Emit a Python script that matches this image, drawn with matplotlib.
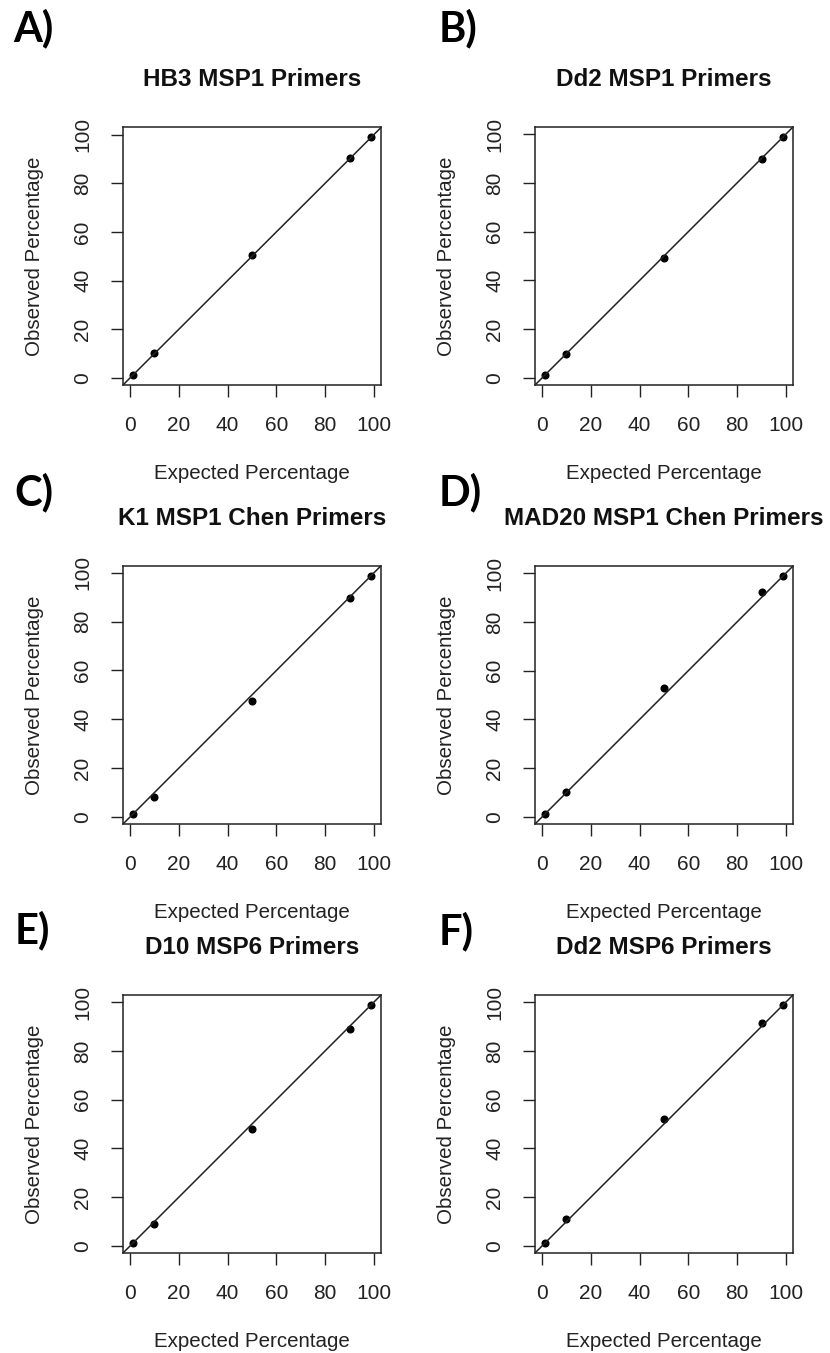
import matplotlib
matplotlib.use("Agg")
import matplotlib.pyplot as plt

plt.rcParams['font.family'] = ['Liberation Sans', 'DejaVu Sans']

# expected vs observed percentages for each primer set
expected = [1, 10, 50, 90, 99]
obs_hb3_msp1 = [1, 10.2, 50.7, 90.4, 99.2]
obs_dd2_msp1 = [1, 9.6, 49.3, 89.9, 99.0]
obs_k1_chen = [1, 8.2, 47.5, 89.8, 98.9]
obs_mad20_chen = [1, 10.4, 52.8, 92.1, 99.0]
obs_d10_msp6 = [1, 8.9, 48.0, 89.1, 99.0]
obs_dd2_msp6 = [1, 11.0, 51.9, 91.3, 99.0]

titles = ["HB3 MSP1 Primers", "Dd2 MSP1 Primers",
          "K1 MSP1 Chen Primers", "MAD20 MSP1 Chen Primers",
          "D10 MSP6 Primers", "Dd2 MSP6 Primers"]
letters = ["A)", "B)", "C)", "D)", "E)", "F)"]
observed = [obs_hb3_msp1, obs_dd2_msp1, obs_k1_chen,
            obs_mad20_chen, obs_d10_msp6, obs_dd2_msp6]

W, H = 830, 1353
fig = plt.figure(figsize=(W / 100, H / 100), dpi=100)

# axes boxes in pixels (left, top), size ~258 px
lefts = [123, 535]
tops = [127, 566, 995]
size = 258
# letter positions (left, baseline) in pixels
letter_pos = [(13, 41), (439, 41), (14, 505), (439, 505), (15, 943), (439, 944)]


def rlim(v):
    lo, hi = min(v), max(v)
    d = (hi - lo) * 0.04
    return lo - d, hi + d


for i in range(6):
    r, c = divmod(i, 2)
    ax = fig.add_axes([lefts[c] / W, 1 - (tops[r] + size) / H, size / W, size / H])
    ax.plot(expected, observed[i], 'o', color='black', ms=4.8)
    ax.axline((0, 0), slope=1, color='#222222', lw=1.1)
    ax.set_xlim(*rlim(expected))
    ax.set_ylim(*rlim(observed[i]))
    ax.set_xticks([0, 20, 40, 60, 80, 100])
    ax.set_yticks([0, 20, 40, 60, 80, 100])
    ax.tick_params(length=8.5, width=1.0, pad=13.5, labelsize=15, colors='#222222')
    for lab in ax.get_yticklabels():
        lab.set_rotation(90)
        lab.set_va('center')
    for s in ax.spines.values():
        s.set_linewidth(1.1)
        s.set_color('#222222')
    ax.set_title(titles[i], fontsize=17.5, fontweight='bold', pad=29.5, color='#111111')
    ax.set_xlabel("Expected Percentage", fontsize=14.8, color='#222222')
    ax.set_ylabel("Observed Percentage", fontsize=14.8, color='#222222')
    ax.xaxis.set_label_coords(0.5, -0.305)
    ax.yaxis.set_label_coords(-0.305, 0.5)
    lx, ly = letter_pos[i]
    fig.text(lx / W, 1 - ly / H, letters[i], fontsize=30, fontweight='bold',
             family=['Lato', 'DejaVu Sans'], ha='left', va='baseline')

fig.savefig("out.png", dpi=100, facecolor='white')
